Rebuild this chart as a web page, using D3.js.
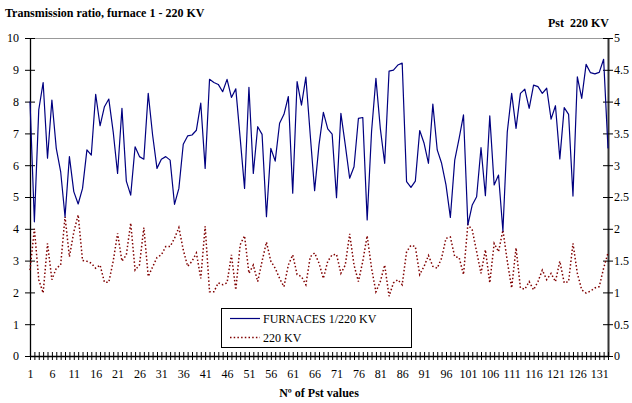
<!DOCTYPE html>
<html>
<head>
<meta charset="utf-8">
<script src="https://cdn.jsdelivr.net/npm/d3@7/dist/d3.min.js"></script>
<style>
  html, body { margin: 0; padding: 0; background: #fff; }
  svg { display: block; font-family: "Liberation Serif", "Times New Roman", serif; }
</style>
</head>
<body>
<svg id="chart" width="632" height="403"></svg>
<script>
// Transmission ratio of furnace 1 (left axis) and Pst measured at 220 kV (right axis)
const furnaceRatio = [
  8.0, 4.22, 7.74, 8.6, 6.22, 8.05, 6.53, 5.8, 4.38, 6.27,
  5.17, 4.78, 5.27, 6.48, 6.32, 8.23, 7.24, 7.84, 8.08, 7.05,
  5.74, 7.79, 5.5, 5.06, 6.58, 6.27, 6.19, 8.26, 6.95, 5.9,
  6.19, 6.27, 6.16, 4.77, 5.27, 6.66, 6.92, 6.95, 7.1, 7.95,
  5.9, 8.7, 8.6, 8.54, 8.31, 8.7, 8.13, 8.4, 6.85, 5.27,
  8.45, 5.74, 7.21, 6.97, 4.38, 6.53, 6.13, 7.32, 7.6, 8.16,
  5.12, 8.63, 7.89, 8.77, 6.95, 5.2, 6.64, 7.66, 7.14, 6.98,
  4.98, 7.63, 6.64, 5.59, 5.95, 7.47, 7.5, 4.28, 7.05, 8.73,
  7.16, 6.06, 8.96, 8.99, 9.15, 9.21, 5.48, 5.3, 5.5, 7.09,
  6.69, 6.06, 7.92, 6.48, 6.06, 5.38, 4.36, 6.16, 6.84, 7.58,
  4.12, 4.75, 5.01, 6.55, 5.04, 7.55, 5.38, 5.69, 3.93, 7.05,
  8.26, 7.16, 8.26, 8.39, 7.79, 8.52, 8.47, 8.26, 8.42, 7.45,
  7.87, 6.2, 7.81, 7.6, 5.03, 8.78, 8.1, 9.17, 8.91, 8.87,
  8.92, 9.33, 6.53
];

const pst220 = [
  1.35, 2.0, 1.2, 0.99, 1.77, 1.2, 1.38, 1.43, 2.19, 1.56,
  1.95, 2.22, 1.5, 1.49, 1.46, 1.38, 1.43, 1.16, 1.16, 1.49,
  1.93, 1.49, 1.59, 2.09, 1.35, 1.43, 2.02, 1.25, 1.4, 1.55,
  1.59, 1.72, 1.72, 1.85, 2.02, 1.67, 1.41, 1.49, 1.62, 1.22,
  2.04, 1.01, 1.01, 1.15, 1.12, 1.15, 1.59, 1.04, 1.75, 1.89,
  1.3, 1.43, 1.17, 1.49, 1.79, 1.49, 1.38, 1.22, 1.09, 1.43,
  1.59, 1.28, 1.25, 1.12, 1.56, 1.62, 1.46, 1.22, 1.49, 1.59,
  1.6, 1.3, 1.43, 1.92, 1.43, 1.17, 1.49, 1.89, 1.38, 1.01,
  1.17, 1.43, 0.94, 1.15, 1.2, 1.12, 1.64, 1.74, 1.72, 1.28,
  1.41, 1.58, 1.41, 1.38, 1.54, 1.85, 1.87, 1.56, 1.55, 1.28,
  2.07, 1.98, 1.64, 1.3, 1.67, 1.15, 1.77, 1.64, 1.98, 1.49,
  1.07, 1.7, 1.07, 1.05, 1.17, 1.04, 1.17, 1.35, 1.2, 1.3,
  1.17, 1.49, 1.15, 1.17, 1.77, 1.3, 1.04, 0.99, 1.02, 1.07,
  1.09, 1.38, 1.62
];

const sampleNumbers = furnaceRatio.map((d, i) => i + 1);
const xTickLabels = [1, 6, 11, 16, 21, 26, 31, 36, 41, 46, 51, 56, 61, 66, 71, 76, 81, 86, 91, 96, 101, 106, 111, 116, 121, 126, 131];
const leftTicks = [0, 1, 2, 3, 4, 5, 6, 7, 8, 9, 10];
const rightTicks = [0, 0.5, 1, 1.5, 2, 2.5, 3, 3.5, 4, 4.5, 5];
const seriesNames = ["FURNACES 1/220 KV", "220 KV"];

const svg = d3.select("#chart");
const plot = { left: 30, right: 608, top: 38, bottom: 356 };

const x = d3.scaleLinear().domain([1, sampleNumbers.length]).range([plot.left, plot.right]);
const yLeft = d3.scaleLinear().domain([0, 10]).range([plot.bottom, plot.top]);
const yRight = d3.scaleLinear().domain([0, 5]).range([plot.bottom, plot.top]);

// plot-area frame (top edge)
svg.append("line")
  .attr("x1", plot.left).attr("x2", plot.right)
  .attr("y1", plot.top + 0.5).attr("y2", plot.top + 0.5)
  .attr("stroke", "#999").attr("stroke-width", 1.2);

// left value axis
const leftAxis = d3.axisLeft(yLeft).tickValues(leftTicks).tickSizeInner(5).tickSizeOuter(0).tickPadding(6);
const gL = svg.append("g").attr("transform", `translate(${plot.left},0)`).call(leftAxis);
gL.select(".domain").attr("stroke", "#000").attr("stroke-width", 1.3);
gL.selectAll(".tick line").attr("x1", -5).attr("x2", 5).attr("stroke", "#000");
gL.selectAll(".tick text").attr("font-size", 12).attr("font-family", "Liberation Serif").attr("fill", "#000");

// right value axis (Pst)
const rightAxis = d3.axisRight(yRight).tickValues(rightTicks).tickSizeInner(5).tickSizeOuter(0).tickPadding(1)
  .tickFormat(d => String(d));
const gR = svg.append("g").attr("transform", `translate(${plot.right},0)`).call(rightAxis);
gR.select(".domain").attr("stroke", "#333").attr("stroke-width", 2);
gR.selectAll(".tick line").attr("x1", -5).attr("x2", 5).attr("stroke", "#000");
gR.selectAll(".tick text").attr("font-size", 12).attr("font-family", "Liberation Serif").attr("fill", "#000");

// category axis: a tick at every sample, labels every 5th
const labelSet = new Set(xTickLabels);
const bottomAxis = d3.axisBottom(x).tickValues(sampleNumbers).tickSizeInner(4).tickSizeOuter(0).tickPadding(9)
  .tickFormat(d => labelSet.has(d) ? String(d) : "");
const gB = svg.append("g").attr("transform", `translate(0,${plot.bottom})`).call(bottomAxis);
gB.select(".domain").attr("stroke", "#000").attr("stroke-width", 1.3);
gB.selectAll(".tick line").attr("y1", -4).attr("y2", 4).attr("stroke", "#000");
gB.selectAll(".tick text").attr("font-size", 12).attr("font-family", "Liberation Serif").attr("fill", "#000");

// series lines
const furnaceLine = d3.line().x((d, i) => x(sampleNumbers[i])).y(d => yLeft(d));
const pstLine = d3.line().x((d, i) => x(sampleNumbers[i])).y(d => yRight(d));

svg.append("path").datum(pst220)
  .attr("d", pstLine)
  .attr("fill", "none").attr("stroke", "#800000")
  .attr("stroke-width", 1.5).attr("stroke-dasharray", "1.5,2.2");

svg.append("path").datum(furnaceRatio)
  .attr("d", furnaceLine)
  .attr("fill", "none").attr("stroke", "#000080")
  .attr("stroke-width", 1.2).attr("stroke-linejoin", "round");

// legend
const lg = svg.append("g");
lg.append("rect").attr("x", 221.5).attr("y", 308.5).attr("width", 190).attr("height", 39)
  .attr("fill", "#fff").attr("stroke", "#000").attr("stroke-width", 1);
const legendStyles = [
  { stroke: "#000080", dash: null, width: 1.2 },
  { stroke: "#800000", dash: "1.5,2.2", width: 1.5 }
];
seriesNames.forEach((name, k) => {
  const yy = 318.5 + k * 19;
  lg.append("line").attr("x1", 230).attr("x2", 260).attr("y1", yy).attr("y2", yy)
    .attr("stroke", legendStyles[k].stroke).attr("stroke-width", legendStyles[k].width)
    .attr("stroke-dasharray", legendStyles[k].dash);
  lg.append("text").attr("x", 263).attr("y", yy + 4).attr("font-size", 12)
    .attr("font-family", "Liberation Serif").text(name);
});

// titles
svg.append("text").attr("x", 5).attr("y", 17)
  .attr("font-size", 12).attr("font-weight", "bold").attr("font-family", "Liberation Serif")
  .text("Transmission ratio, furnace 1 - 220 KV");
svg.append("text").attr("x", 609).attr("y", 27).attr("text-anchor", "end")
  .attr("font-size", 12).attr("font-weight", "bold").attr("font-family", "Liberation Serif")
  .attr("xml:space", "preserve").style("white-space", "pre")
  .text("Pst  220 KV");
svg.append("text").attr("x", (plot.left + plot.right) / 2).attr("y", 397).attr("text-anchor", "middle")
  .attr("font-size", 12).attr("font-weight", "bold").attr("font-family", "Liberation Serif")
  .text("Nº of Pst values");
</script>
</body>
</html>
